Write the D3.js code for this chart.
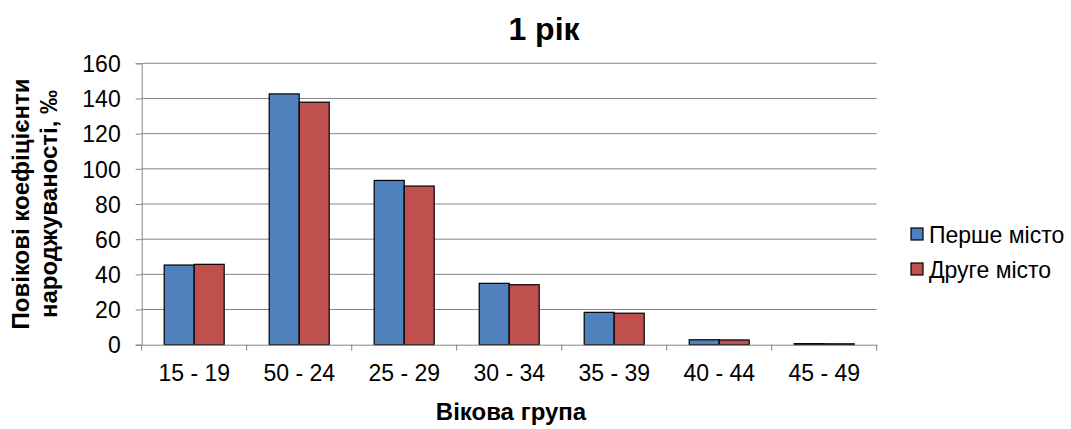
<!DOCTYPE html>
<html><head><meta charset="utf-8">
<script src="https://cdn.jsdelivr.net/npm/d3@7"></script>
<style>
body{margin:0;background:#fff;}
svg{display:block;font-family:"Liberation Sans",Arial,sans-serif;}
</style></head>
<body>
<svg id="chart" width="1071" height="429"></svg>
<script>
const categories = ["15 - 19","50 - 24","25 - 29","30 - 34","35 - 39","40 - 44","45 - 49"];
const series = ["Перше місто","Друге місто"];
const firstCity = [45.3, 142.6, 93.4, 34.9, 18.4, 2.8, 0.6];
const secondCity = [45.7, 137.9, 90.2, 34.1, 17.9, 2.7, 0.5];
const yTicks = [0,20,40,60,80,100,120,140,160];
const colors = ["#4F81BD","#C0504D"];
const title = "1 рік";
const xTitle = "Вікова група";
const yTitle = ["Повікові коефіцієнти","народжуваності, ‰"];

const svg = d3.select("#chart");
const L = 141.7, R = 876.7, T = 63.3, B = 344.7;
const x = d3.scaleBand().domain(categories).range([L, R]).padding(0);
const bw = x.bandwidth();
const xs = d3.scaleBand().domain(series).range([bw*0.2143, bw*0.7857]).padding(0);
const y = d3.scaleLinear().domain([0,160]).range([B, T]);
const values = [firstCity, secondCity];
const axisColor = "#868686";
const FF = "Liberation Sans, Arial, sans-serif";

// gridlines
svg.append("g").selectAll("line").data(yTicks.filter(d=>d>0)).join("line")
  .attr("x1", L).attr("x2", R).attr("y1", d=>y(d)).attr("y2", d=>y(d))
  .attr("stroke", axisColor).attr("stroke-width", 1);

// bars
series.forEach((s, si) => {
  svg.append("g").selectAll("rect").data(categories).join("rect")
    .attr("x", c => x(c) + xs(s))
    .attr("y", (c,i) => y(values[si][i]))
    .attr("width", xs.bandwidth())
    .attr("height", (c,i) => B - y(values[si][i]))
    .attr("fill", colors[si]).attr("stroke", "#000").attr("stroke-width", 1.2);
});

// y axis
const yAxis = svg.append("g").attr("transform", `translate(${L},0)`)
  .call(d3.axisLeft(y).tickValues(yTicks).tickSize(6).tickPadding(15));
yAxis.select(".domain").attr("stroke", axisColor);
yAxis.selectAll(".tick line").attr("stroke", axisColor);
yAxis.selectAll(".tick text").attr("font-size", 23).attr("fill", "#000")
  .attr("font-family", FF).attr("dy", "0.36em");

// x axis
const xAxis = svg.append("g").attr("transform", `translate(0,${B})`)
  .call(d3.axisBottom(x).tickSize(0).tickPadding(20));
xAxis.select(".domain").attr("stroke", axisColor);
xAxis.selectAll(".tick text").attr("font-size", 23).attr("fill", "#000")
  .attr("font-family", FF);
// boundary ticks
const bounds = categories.map(c => x(c)).concat([R]);
svg.append("g").selectAll("line").data(bounds).join("line")
  .attr("x1", d=>d).attr("x2", d=>d).attr("y1", B).attr("y2", B+6)
  .attr("stroke", axisColor);

// title
svg.append("text").attr("x", 544).attr("y", 40).attr("text-anchor","middle")
  .attr("font-size", 32).attr("font-weight","bold").text(title);

// x title
svg.append("text").attr("x", 511).attr("y", 420).attr("text-anchor","middle")
  .attr("font-size", 24).attr("font-weight","bold").text(xTitle);

// y title
const yt = svg.append("text").attr("transform","translate(0,204) rotate(-90)")
  .attr("text-anchor","middle").attr("font-size", 24).attr("font-weight","bold");
yt.selectAll("tspan").data(yTitle).join("tspan")
  .attr("x", 0).attr("y", (d,i)=> 29 + i*28).text(d=>d);

// legend
const lg = svg.append("g");
series.forEach((s, i) => {
  const gy = 228 + i*35;
  lg.append("rect").attr("x", 911).attr("y", gy).attr("width", 12).attr("height", 12)
    .attr("fill", colors[i]).attr("stroke", "#000").attr("stroke-width", 1.2);
  lg.append("text").attr("x", 929).attr("y", gy + 15).attr("font-size", 23).text(s);
});
</script>
</body></html>
